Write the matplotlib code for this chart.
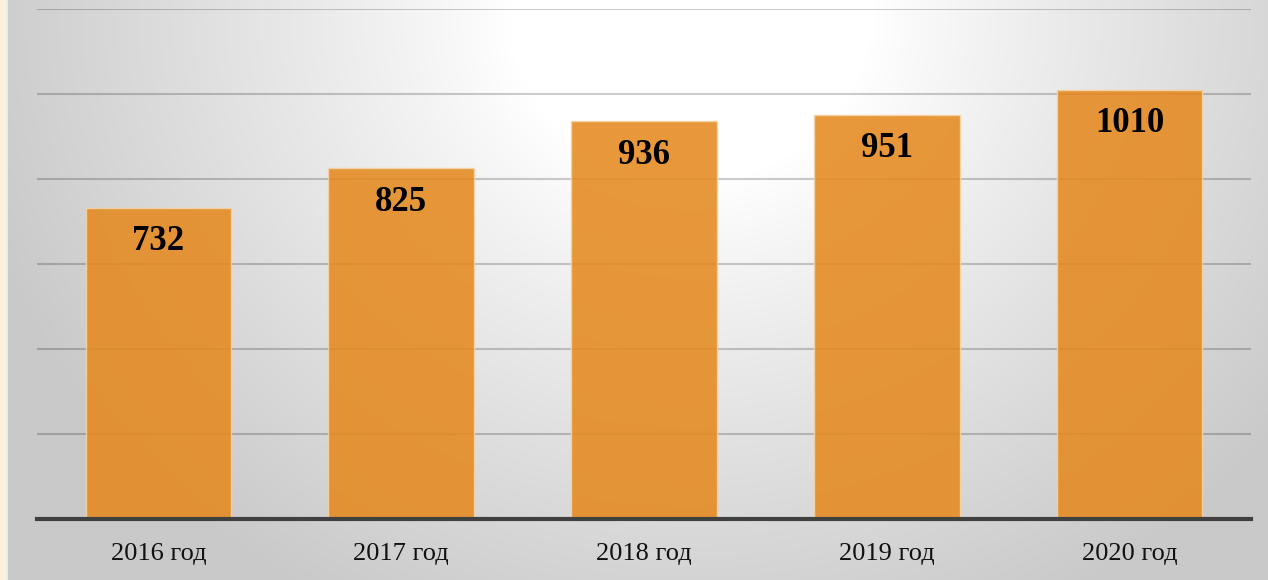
import numpy as np
import matplotlib
matplotlib.use("Agg")
import matplotlib.pyplot as plt

categories = ["2016 год", "2017 год", "2018 год", "2019 год", "2020 год"]
values = [732, 825, 936, 951, 1010]
labels = ["732", "825", "936", "951", "1010"]

W, H = 1268, 580
fig = plt.figure(figsize=(W / 100, H / 100), dpi=100)

# background radial gradient
bg = fig.add_axes([0, 0, 1, 1], zorder=0)
yy, xx = np.mgrid[0:H, 0:W]
cx, cy = 690, 20
d = np.sqrt(((xx - cx) / 1.0) ** 2 + ((yy - cy) / 0.9) ** 2)
t = np.clip((d - 180) / 560, 0, 1) ** 0.9
v = 1.0 - t * (1.0 - 0.79)
img = np.dstack([v, v, v])
# beige strip on the left
img[:, :6, :] = np.array([0.99, 0.95, 0.86])
img[:, 6:8, :] = np.array([0.92, 0.92, 0.92])
bg.imshow(img, aspect="auto", extent=[0, W, H, 0], interpolation="bilinear")
bg.set_axis_off()

ax = fig.add_axes([37 / W, 61 / H, (1251 - 37) / W, (571 - 61) / H], zorder=1)
ax.patch.set_alpha(0)
x = np.arange(len(categories))
bars = ax.bar(x, values, width=0.6, color="#E58A1F", alpha=0.88,
              edgecolor="#F6D3A8", linewidth=1.0, zorder=2)
ax.set_ylim(0, 1200)
ax.set_xlim(-0.5, len(categories) - 0.5)
ax.set_yticks(np.arange(200, 1201, 200))
ax.yaxis.grid(True, color="black", alpha=0.2, linewidth=1.5, zorder=1)
ax.set_axisbelow(True)
ax.tick_params(axis="y", left=False, labelleft=False)
ax.tick_params(axis="x", bottom=False, pad=14)
ax.set_xticks(x)
ax.set_xticklabels(categories, fontsize=19, family="Liberation Serif", color="#111111")
for s in ["top", "right", "left"]:
    ax.spines[s].set_visible(False)
ax.spines["bottom"].set_color("#404040")
ax.spines["bottom"].set_linewidth(3)
ax.spines["bottom"].set_zorder(3)

for xi, val, lab in zip(x, values, labels):
    ax.annotate(lab, (xi, val), xytext=(0, -34), textcoords="offset pixels",
                ha="center", va="center", fontsize=25, fontweight="bold",
                family="Liberation Serif", color="black", zorder=4)

fig.savefig("out.png", dpi=100)
